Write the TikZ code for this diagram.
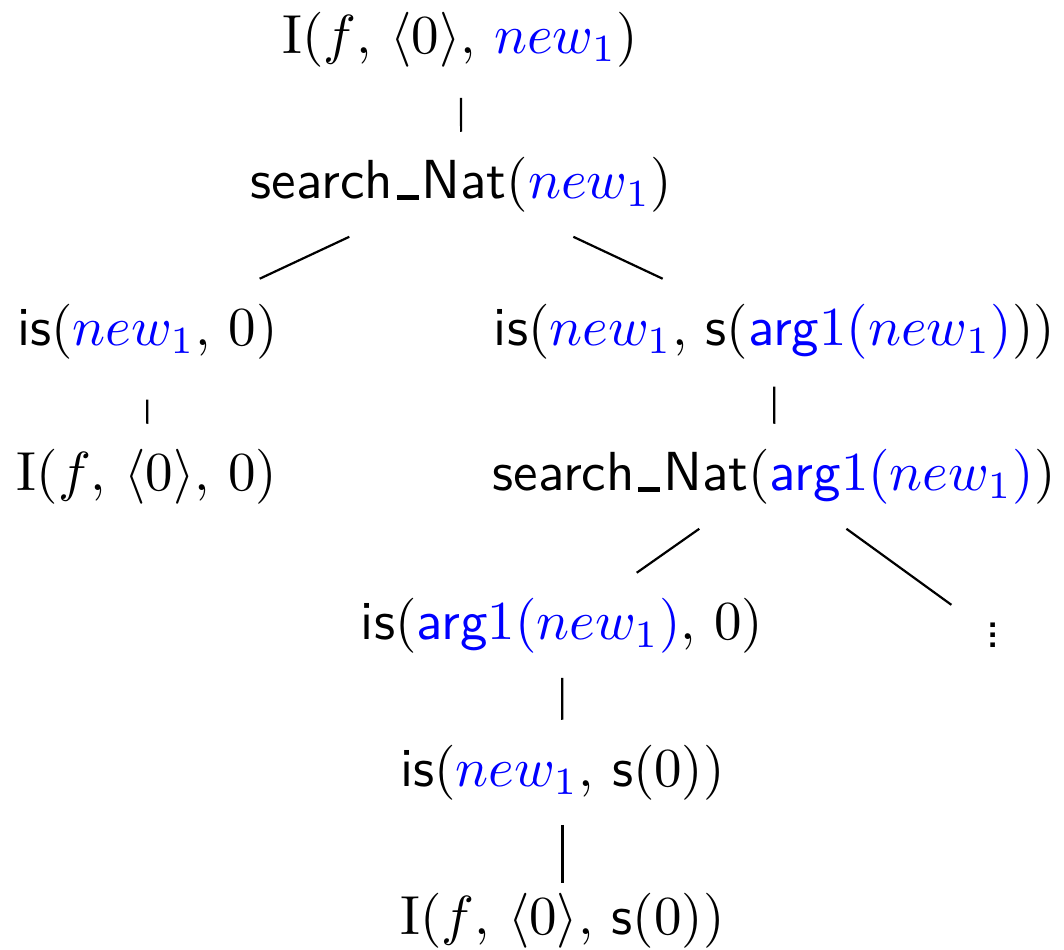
\documentclass[tikz,border=0pt]{standalone}
\usepackage{xcolor}

% three closely stacked square dots
\newcommand\tightvdots{\vbox{\baselineskip=1.77pt\lineskiplimit=0pt
  \hbox{\sffamily .}\hbox{\sffamily .}\hbox{\sffamily .}}}
% short heavy underscore sitting on the baseline
\newcommand\usc{\kern0.7pt\rule[-0.4pt]{4pt}{0.9pt}\kern0.5pt}
\newcommand\sep{{,}\ }
\newcommand\nw{\textcolor{blue}{new_1}}
\newcommand\argnw{\textcolor{blue}{\textsf{arg}1(new_1)}}
\newcommand\srch{\textsf{search\usc Nat}}

\begin{document}
\begin{tikzpicture}[x=0.181818pt, y=-0.181818pt,
  term/.style={anchor=base, inner xsep=1pt, inner ysep=4.55pt,
    text height=7.5pt, text depth=2.5pt, outer sep=0pt},
  moredots/.style={anchor=base, inner xsep=0pt, inner ysep=3.3pt,
    minimum width=20pt, outer sep=0pt},
  branch/.style={line width=0.4pt}]
\useasboundingbox (0,0) rectangle (1064,949);

% terms of the search tree
\node[term] (r1)  at (460.5,53)  {$\mathrm{I}(f\sep \langle 0\rangle\sep \nw)$};
\node[term] (r2)  at (461.5,198) {$\srch(\nw)$};
\node[term] (r3l) at (147.5,345) {$\textsf{is}(\nw\sep 0)$};
\node[term] (r3r) at (774.5,345) {$\textsf{is}(\nw\sep \textsf{s}(\argnw))$};
\node[term] (r4l) at (147,490)   {$\mathrm{I}(f\sep \langle 0\rangle\sep 0)$};
\node[term] (r4r) at (774,490)   {$\srch(\argnw)$};
\node[term] (r5)  at (562,639)   {$\textsf{is}(\argnw\sep 0)$};
\node[term] (r6)  at (562.5,786) {$\textsf{is}(\nw\sep \textsf{s}(0))$};
\node[term] (r7)  at (562.5,934) {$\mathrm{I}(f\sep \langle 0\rangle\sep \textsf{s}(0))$};
\node[moredots] (more) at (993,647) {\tightvdots};

% branches
\draw[branch, shorten <=1.1pt] (r1) -- (r2);
\draw[branch] (r2) -- (r3l);
\draw[branch] (r2) -- (r3r);
\draw[branch, shorten <=2.9pt] (r3l) -- (r4l);
\draw[branch, shorten <=0.5pt] (r3r) -- (r4r);
\draw[branch] (r4r) -- (r5);
\draw[branch] (r4r) -- (more);
\draw[branch] (r5) -- (r6);
\draw[branch, shorten >=-2.7pt] (r6) -- (r7);
\end{tikzpicture}
\end{document}
